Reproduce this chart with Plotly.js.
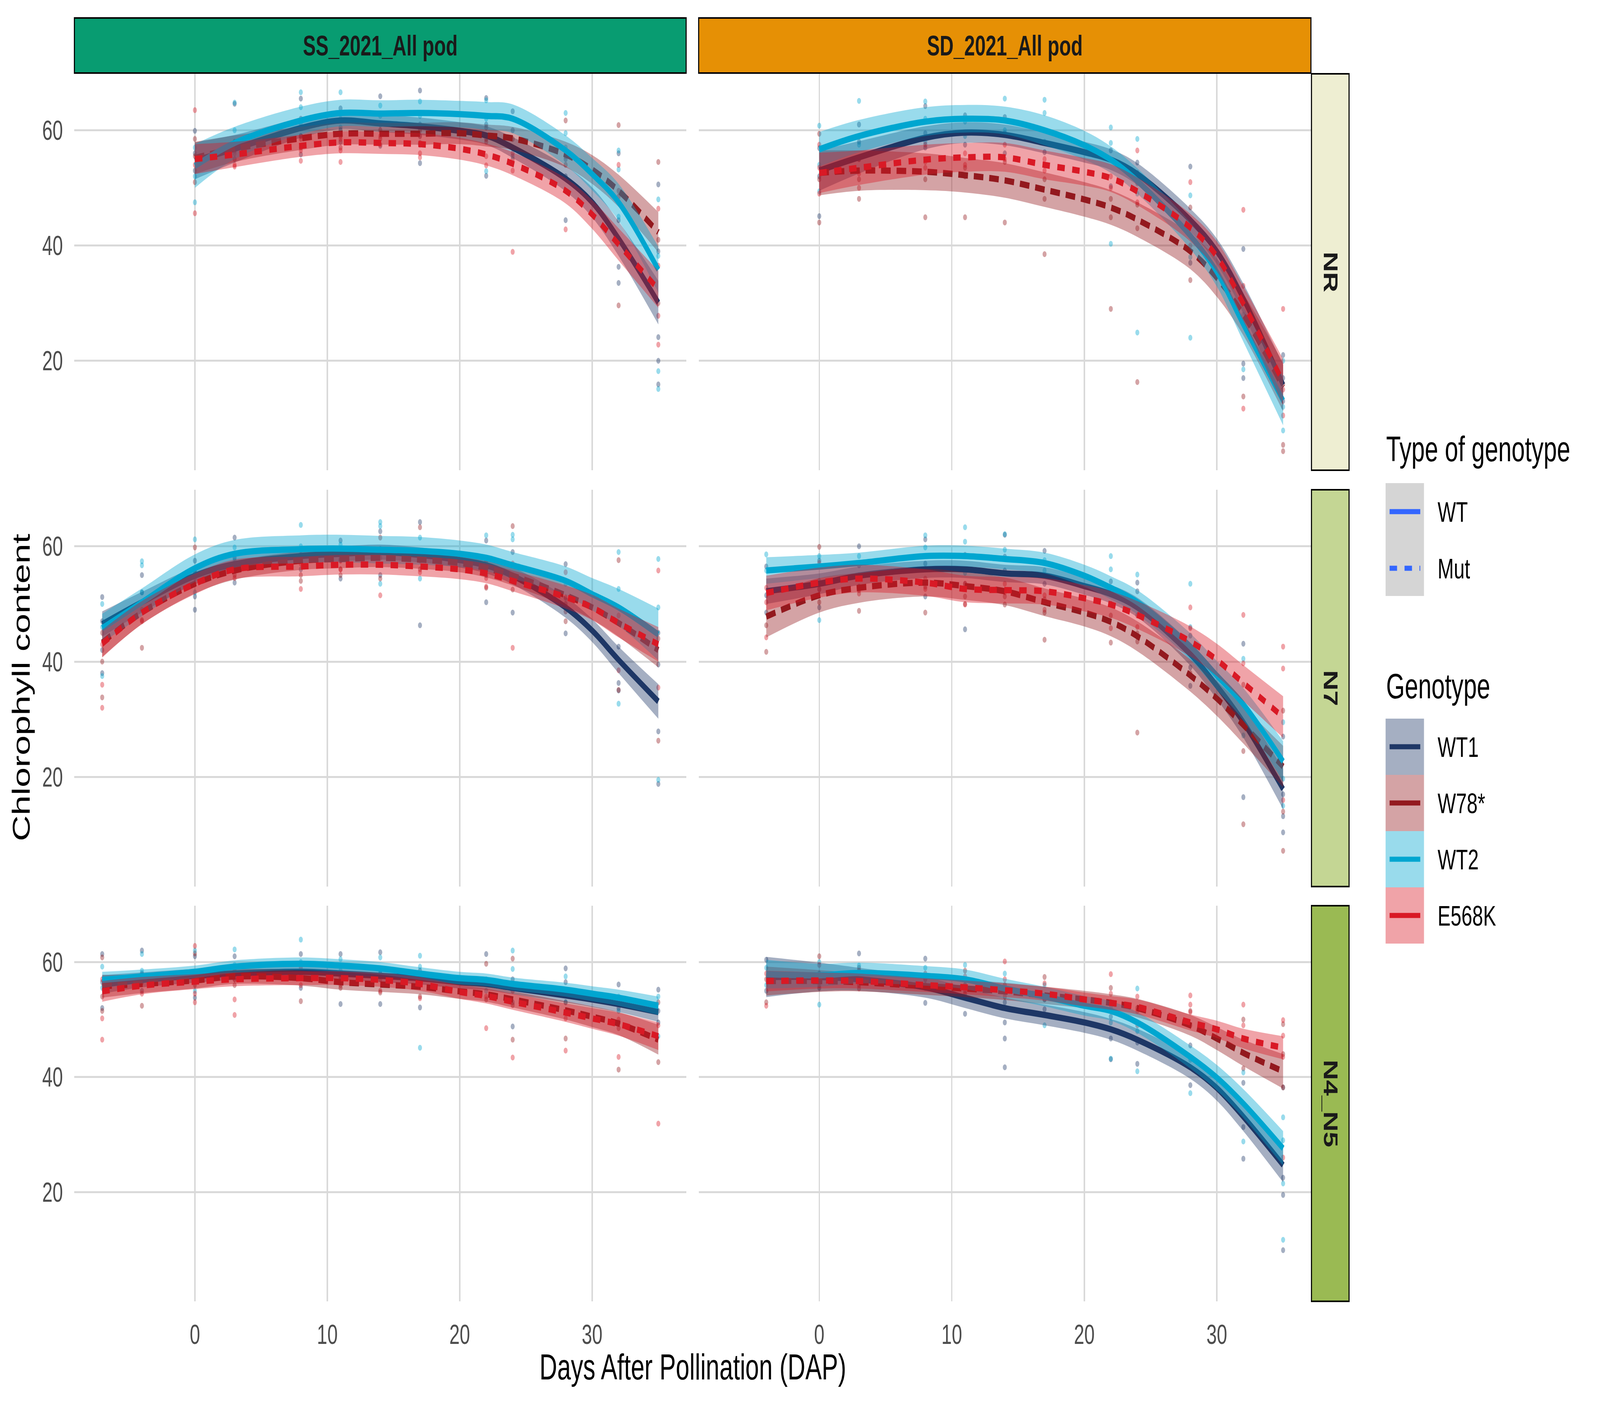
<!DOCTYPE html>
<html>
<head>
<meta charset="utf-8">
<script src="https://cdn.plot.ly/plotly-3.0.1.min.js"></script>
<style>
  html, body { margin: 0; padding: 0; overflow: hidden; background: #ffffff; }
  #chart { position: absolute; left: 0; top: 0; width: 6000px; height: 3600px; transform-origin: 0 0; }
</style>
</head>
<body>
<div id="chart"></div>
<script>
// Facets and groups
var seasons = ['SS_2021_All pod', 'SD_2021_All pod'];
var treatments = ['NR', 'N7', 'N4_N5'];
var genotypes = ['WT1', 'W78*', 'WT2', 'E568K'];
var genoTypeLabels = ['WT', 'Mut'];

var fitDays_SS_NR = [0, 3, 8, 11, 14, 17, 20, 22, 24, 28, 30, 32, 35];
var fitDays_SD_NR = [0, 3, 8, 11, 14, 17, 20, 22, 24, 28, 30, 32, 35];
var fitDays_SS_N  = [-7, -4, 0, 3, 8, 11, 14, 17, 20, 22, 24, 28, 30, 32, 35];
var fitDays_SD_N  = [-4, 0, 3, 8, 11, 14, 17, 20, 22, 24, 28, 30, 32, 35];

// Sampling days of the measured points
var obsDays_SS_NR = [0, 3, 8, 11, 14, 17, 22, 24, 28, 32, 35];
var obsDays_SD_NR = [0, 3, 8, 11, 14, 17, 22, 24, 28, 32, 35];
var obsDays_SS_N  = [-7, -4, 0, 3, 8, 11, 14, 17, 22, 24, 28, 32, 35];
var obsDays_SD_N  = [-4, 0, 3, 8, 11, 14, 17, 22, 24, 28, 32, 35];

// ---- SS / NR ----
var fit_SS_NR_WT1   = [54.7, 56.8, 60.4, 61.7, 61.2, 60.7, 59.9, 59.1, 57.0, 51.6, 47.5, 41.2, 30.1];
var band_SS_NR_WT1  = [3.2, 2.4, 1.7, 1.5, 1.5, 1.5, 1.5, 1.6, 1.8, 2.2, 2.6, 3.0, 3.8];
var fit_SS_NR_W78   = [55.2, 56.8, 58.6, 59.4, 59.4, 59.4, 59.5, 59.1, 58.6, 55.8, 53.2, 49.5, 42.3];
var band_SS_NR_W78  = [2.8, 2.3, 2.0, 1.9, 1.9, 1.9, 1.9, 1.9, 2.0, 2.2, 2.5, 2.8, 3.5];
var fit_SS_NR_WT2   = [53.8, 57.8, 61.7, 63.0, 62.9, 63.0, 62.8, 62.5, 62.0, 56.5, 52.4, 47.5, 35.8];
var band_SS_NR_WT2  = [3.8, 2.8, 2.4, 2.3, 2.3, 2.3, 2.3, 2.4, 2.5, 2.6, 2.8, 3.2, 4.0];
var fit_SS_NR_E568K = [55.0, 55.8, 57.3, 57.9, 57.8, 57.6, 56.8, 55.8, 54.2, 49.5, 45.4, 40.2, 32.4];
var band_SS_NR_E568K= [2.6, 2.2, 1.9, 1.9, 1.9, 1.9, 1.9, 1.9, 2.0, 2.2, 2.5, 2.8, 3.2];

// ---- SD / NR ----
var fit_SD_NR_WT1   = [53.0, 55.3, 58.7, 59.6, 59.2, 57.8, 56.2, 54.9, 52.4, 44.4, 39.0, 30.8, 15.8];
var band_SD_NR_WT1  = [3.5, 2.8, 2.0, 1.8, 1.8, 1.8, 1.8, 1.8, 1.9, 2.0, 2.2, 2.6, 3.5];
var fit_SD_NR_W78   = [52.6, 53.0, 52.8, 52.2, 51.3, 49.7, 48.0, 46.6, 44.5, 39.0, 34.4, 28.0, 15.4];
var band_SD_NR_W78  = [3.9, 3.5, 3.2, 3.0, 3.0, 3.0, 3.0, 3.0, 3.0, 3.1, 3.3, 3.6, 4.2];
var fit_SD_NR_WT2   = [56.7, 59.0, 61.5, 62.0, 61.7, 60.0, 57.4, 54.9, 51.2, 41.7, 35.4, 26.3, 13.1];
var band_SD_NR_WT2  = [3.0, 2.8, 2.5, 2.4, 2.4, 2.6, 2.5, 2.3, 2.2, 2.3, 2.5, 3.0, 4.3];
var fit_SD_NR_E568K = [52.6, 53.5, 54.9, 55.3, 55.3, 54.0, 52.8, 51.7, 49.4, 43.1, 38.1, 29.9, 16.3];
var band_SD_NR_E568K= [3.5, 3.0, 2.6, 2.5, 2.5, 2.5, 2.4, 2.4, 2.4, 2.4, 2.6, 3.0, 4.0];

// ---- SS / N7 ----
var fit_SS_N7_WT1   = [46.5, 50.3, 54.9, 56.9, 58.3, 58.7, 59.0, 58.5, 57.6, 56.7, 54.9, 49.4, 45.4, 40.3, 33.1];
var band_SS_N7_WT1  = [2.2, 1.8, 1.5, 1.4, 1.3, 1.3, 1.3, 1.3, 1.3, 1.4, 1.5, 1.8, 2.0, 2.3, 3.0];
var fit_SS_N7_W78   = [43.3, 48.5, 53.5, 55.8, 57.5, 57.8, 58.0, 57.7, 57.1, 56.2, 54.9, 51.5, 49.4, 46.7, 42.0];
var band_SS_N7_W78  = [2.5, 2.0, 1.7, 1.6, 1.6, 1.6, 1.6, 1.6, 1.6, 1.6, 1.7, 1.9, 2.1, 2.4, 3.0];
var fit_SS_N7_WT2   = [45.8, 50.3, 56.2, 58.7, 59.5, 59.6, 59.4, 59.2, 58.7, 58.0, 56.7, 54.0, 51.7, 49.4, 44.7];
var band_SS_N7_WT2  = [2.5, 2.4, 2.4, 2.4, 2.4, 2.4, 2.4, 2.4, 2.3, 2.3, 2.3, 2.5, 2.8, 3.2, 4.5];
var fit_SS_N7_E568K = [43.1, 48.5, 53.5, 56.0, 56.5, 56.8, 56.8, 56.5, 56.0, 55.3, 54.0, 51.2, 49.4, 46.7, 43.0];
var band_SS_N7_E568K= [2.4, 2.0, 1.8, 1.7, 1.7, 1.7, 1.7, 1.7, 1.7, 1.7, 1.8, 2.0, 2.2, 2.5, 3.0];

// ---- SD / N7 ----
var fit_SD_N7_WT1   = [52.2, 53.5, 54.9, 56.0, 56.0, 55.3, 54.9, 53.1, 51.7, 49.4, 41.3, 35.8, 29.5, 17.9];
var band_SD_N7_WT1  = [2.2, 1.8, 1.6, 1.5, 1.5, 1.5, 1.5, 1.5, 1.6, 1.7, 2.0, 2.3, 2.7, 3.5];
var fit_SD_N7_W78   = [47.8, 51.5, 52.8, 53.7, 53.1, 52.2, 50.3, 48.5, 46.9, 44.4, 37.6, 33.6, 29.0, 21.8];
var band_SD_N7_W78  = [3.6, 3.0, 2.6, 2.4, 2.4, 2.4, 2.4, 2.4, 2.5, 2.6, 2.8, 3.0, 3.2, 3.6];
var fit_SD_N7_WT2   = [55.8, 56.5, 57.1, 58.3, 58.3, 57.8, 57.1, 54.9, 52.8, 50.3, 42.6, 37.6, 32.6, 22.7];
var band_SD_N7_WT2  = [2.3, 2.0, 1.8, 1.8, 1.8, 1.8, 1.8, 1.9, 2.0, 2.1, 2.3, 2.5, 2.8, 3.5];
var fit_SD_N7_E568K = [51.9, 53.7, 54.4, 53.7, 52.6, 52.4, 52.2, 51.0, 49.9, 48.1, 43.5, 40.3, 36.3, 30.4];
var band_SD_N7_E568K= [3.0, 2.6, 2.4, 2.3, 2.3, 2.3, 2.3, 2.3, 2.3, 2.4, 2.6, 2.8, 3.1, 3.6];

// ---- SS / N4_N5 ----
var fit_SS_N4_WT1   = [56.1, 56.9, 57.6, 58.0, 58.3, 58.0, 57.6, 57.2, 56.5, 56.2, 55.5, 54.2, 53.5, 52.7, 51.3];
var band_SS_N4_WT1  = [1.6, 1.3, 1.2, 1.1, 1.1, 1.1, 1.1, 1.1, 1.1, 1.1, 1.1, 1.2, 1.3, 1.4, 1.7];
var fit_SS_N4_W78   = [55.8, 56.2, 56.8, 57.5, 57.2, 56.5, 56.1, 55.7, 54.9, 54.4, 53.5, 51.6, 50.5, 49.3, 46.5];
var band_SS_N4_W78  = [2.0, 1.6, 1.4, 1.3, 1.3, 1.3, 1.3, 1.3, 1.3, 1.3, 1.4, 1.6, 1.8, 2.0, 2.6];
var fit_SS_N4_WT2   = [56.9, 57.5, 58.3, 59.2, 59.7, 59.4, 58.9, 58.0, 57.2, 56.9, 56.2, 55.2, 54.5, 53.8, 52.4];
var band_SS_N4_WT2  = [1.4, 1.2, 1.1, 1.1, 1.1, 1.1, 1.1, 1.1, 1.1, 1.1, 1.1, 1.2, 1.3, 1.4, 1.6];
var fit_SS_N4_E568K = [54.9, 55.9, 56.6, 57.0, 57.2, 57.2, 56.9, 56.2, 54.8, 54.1, 53.1, 51.2, 50.2, 49.2, 47.1];
var band_SS_N4_E568K= [1.8, 1.5, 1.3, 1.2, 1.2, 1.2, 1.2, 1.2, 1.2, 1.3, 1.4, 1.6, 1.8, 2.0, 2.4];

// ---- SD / N4_N5 ----
var fit_SD_N4_WT1   = [57.4, 57.4, 57.0, 55.6, 53.8, 52.0, 50.8, 49.5, 48.3, 46.5, 41.7, 38.1, 33.1, 24.7];
var band_SD_N4_WT1  = [3.5, 2.5, 2.0, 1.8, 1.8, 1.8, 1.8, 1.8, 1.8, 1.9, 2.0, 2.2, 2.5, 3.0];
var fit_SD_N4_W78   = [56.7, 56.7, 56.5, 55.8, 55.4, 54.9, 54.2, 53.5, 52.9, 52.0, 49.0, 46.7, 44.2, 41.0];
var band_SD_N4_W78  = [2.5, 1.9, 1.6, 1.5, 1.5, 1.5, 1.5, 1.5, 1.5, 1.6, 1.8, 2.0, 2.3, 3.0];
var fit_SD_N4_WT2   = [57.9, 57.7, 58.1, 57.6, 57.0, 55.4, 54.0, 52.4, 51.5, 49.5, 43.5, 39.9, 35.4, 27.6];
var band_SD_N4_WT2  = [2.5, 2.0, 1.8, 1.7, 1.7, 1.7, 1.7, 1.7, 1.7, 1.8, 2.0, 2.2, 2.5, 3.0];
var fit_SD_N4_E568K = [56.7, 56.8, 56.7, 56.0, 55.6, 55.1, 54.5, 53.5, 52.9, 52.2, 49.5, 48.3, 46.7, 45.1];
var band_SD_N4_E568K= [1.8, 1.4, 1.3, 1.2, 1.2, 1.2, 1.2, 1.2, 1.2, 1.3, 1.4, 1.5, 1.7, 2.0];

// Measured points, one list per sampling day
var pts_SS_NR_WT1   = [[59.9,56,53],[64.6,58,56.5],[65.5,62,59,55.8],[63.8,60,58],[65.9,61,57.3],[66.9,61,57.5,54.3],[65.6,61,52.1],[63.3,60,57],[55,52,44.4],[56,44.4,36.3,33.5],[50.6,39,24.1,20,15.9]];
var pts_SS_NR_W78   = [[58.5,55.5,51],[57,55],[60.5,58.5,57],[59,57],[60,58.5],[60,57.8],[60.5,58.5],[58.5,55],[61.7,54],[60.9,49.5,29.6],[54.5,41,30]];
var pts_SS_NR_WT2   = [[57,52,47.5],[64.8,60,57.5],[66.6,64,61],[66.6,62,60.5],[64.3,62.5],[65,62.5,59],[65.2,62,52.9],[62,55.5],[63,59.5,57],[56.5,53.2,45],[48,38.2,18.2,15.1]];
var pts_SS_NR_E568K = [[63.5,54,45.6],[56,54,53.7],[59,56.5,54.7],[58.5,56.5,54.5],[59,57.5],[59,56,55.3],[58,55.5,53.9],[56,53,38.9],[55.5,42.8],[54,48.5,41.2],[46.4,36.5,27.8,22.8]];

var pts_SD_NR_WT1   = [[56.9,52,45.1],[61,58,55],[64.2,59.5,57],[62.6,59.5,57.5],[62.3,59.5,56],[60,56.2],[56.5,54.9,50.3],[54.4,52.6,50.8],[53.7,44.4,37],[39.4,19.5,17],[21,17,13]];
var pts_SD_NR_W78   = [[59.4,51.5,44],[51.5,48.1],[51.5,44.9],[53.5,52,44.9],[54.5,44],[51.5,48.1,38.5],[48.1,44.9,29],[47.1,43,16.3],[46.6,34],[30,13.8],[16,5.4,4.3]];
var pts_SD_NR_WT2   = [[60.8,54,49.4],[65.1,57.5],[65,62,58],[61.5,59],[65.5,60],[65.3,63,58],[60.5,57.8,40.3],[58.5,49,24.9],[48.7,38,24],[28,18.5],[20,12,7.9]];
var pts_SD_NR_E568K = [[57.5,53.5,49],[55,52.5,50],[57.5,54.5,53.5],[56,54],[57.5,55],[55,53],[52,50],[56.5,47.5],[51,44.5,40],[46.2,33,11.7],[29,15,10.5]];

var pts_SS_N7_WT1   = [[51.2,47,42,38],[55,52],[57.5,51.3,49],[61.5,58,53.7],[58.5,56],[61,57.6,54.4],[62.6,59.5,55],[64.2,58,46.3],[61,55,50.3],[59,54.5,48.5],[56.9,50,44.9],[42.6,36.3,35],[45,39.5,27.9,18.8]];
var pts_SS_N7_W78   = [[45,40,33.8],[47.2,42.4],[59.8,55.5],[57,55],[55,54],[56,55],[61.5,54.4],[63.3,56],[57.5,52.8],[63.5,52.5],[48.7,47],[57.6,35.1],[44,26.3]];
var pts_SS_N7_WT2   = [[50,46,37.5],[57.4,56.7,52],[61.2,55.5,52],[59.8,57.5],[63.7,60],[60.3,58],[64.2,63.5,53.5],[61.5,54.4],[61.9,56],[62,61.2,55],[53.5,51],[59,52.6,32.7],[57.8,49.4,19.5]];
var pts_SS_N7_E568K = [[43,36,32],[49,47],[56,54.5],[56,54.5],[57,52.6],[57.5,56],[58,51.5],[57.5,55.5],[54.5,53],[57,42.4],[55.5,51.2],[48,38.5],[55.8,35.5]];

var pts_SD_N7_WT1   = [[56.5,51.5,48.5],[57.5,52.5,49.4],[60,56.7,53],[61.2,57,51.3],[58.5,53.5,45.6],[62,58.2,55.8],[59.2,53.5],[53.9,50],[53.7,52.2],[44.5,39,35.8],[43.1,29,16.5],[27,17,13.2,10.4]];
var pts_SD_N7_W78   = [[46.3,41.7],[59.9,50.3],[52.4,48.8],[53,48.5],[51.3,50],[51.3,49.9],[50.8,48.5,43.8],[48,43.3],[44.9,43.5,27.7],[41.3,38],[36,24.5,11.8],[31.5,14,7.2]];
var pts_SD_N7_WT2   = [[58.6,55.8],[58.3,54,47.2],[58.3,55],[61.9,59.8],[63.3,60.8,55.4],[62.1,59.4],[57.6,55.8],[58.3,56,52],[55.1,50],[53.5,46],[40.5,27.2],[29.5,19.7,15]];
var pts_SD_N7_E568K = [[52.8,50.3,44.2],[57.1,52.6],[54.4,51.8],[54.4,52.6],[53.5,49.9],[53.5,52],[51.5,49],[50,45.8],[48,46],[49.4,45.8],[48.1,39.7],[42.6,38.8,16]];

var pts_SS_N4_WT1   = [[61.4,56.5,52],[62,58,55],[61,57.5,53.8],[61,57],[61.4,58,55.5],[61.4,57,52.7],[61.7,58,52.7],[58.5,52.1],[61.4,56.4],[57,53,48.8],[58.9,56.5,51.3],[56.1,52,49.5],[55.2,51.5,49.5]];
var pts_SS_N4_W78   = [[60.8,54,51.5],[56.5,52.4],[61.5,56],[58.5,56],[57.5,53.2],[58,55.5],[57.5,54.7],[56,54],[59.7,53.5],[60.6,52.5,46.5],[53,46.7],[48.5,41.3],[53,42.6]];
var pts_SS_N4_WT2   = [[59.2,55.5],[61.4,58.5],[62,55],[62.2,59.5],[63.9,60],[60.5,58.5],[60.8,58.5],[61.1,59.2,45.1],[57,55],[62,58.8],[57.5,53],[54,51.5],[54,47.1]];
var pts_SS_N4_E568K = [[57,50.2,46.5],[57.5,54.5],[62.8,54.5,53],[57,53.5,50.8],[59,56],[57.5,56],[57,55],[57,53.7],[54,48.5],[55,43.4],[50.2,44.6],[50,43.5],[49,31.9]];

var pts_SD_N4_WT1   = [[60.4,55],[58,55.5],[61.5,57],[60.6,56,52.9],[56,51],[53,49.5,46.7,41.7],[53.5,51.8],[50.5,46.7,43.1],[49.5,46,42.3],[45.5,38.6],[39,31.3,25.8],[38.2,22.5,19.5,9.9]];
var pts_SD_N4_W78   = [[57,53],[61,56],[59,56],[58,55.5],[58.5,54.5],[56,54],[57.4,53.5],[55.5,53],[52,49],[51.5,49],[50,41.5],[49.2,44,38.2]];
var pts_SD_N4_WT2   = [[59,56],[60,52.6],[59.4,57],[59,57],[59.5,56],[58,55.2],[56,49],[52,49.5,43.2],[55.4,48,41],[43,37.2],[40.8,28.8],[33,29,21.5,11.7]];
var pts_SD_N4_E568K = [[58,52.4],[59.5,56.5],[58.5,55.4],[57,56],[57.5,55],[60.1,57],[56.3,54],[57.9,54.5],[54,51.5],[54.2,52.6,51.3],[52.6,49],[49.9,47.2,43.5,26]];

// ---- styling ----
var FONT = 'Liberation Sans, Arial, sans-serif';
var geno_rgb  = ['30,55,102', '147,25,30', '0,166,208', '217,25,37'];
var geno_dash = ['solid', '36px,22px', 'solid', '28px,28px'];
var season_fill = ['#089c71', '#e69005'];
var treat_fill  = ['#eeeed2', '#c4d694', '#9aba53'];

// panel geometry in paper fractions of the 6000 x 3600 design
var colDom = [[279 / 6000, 2573 / 6000], [2620 / 6000, 4916 / 6000]];
var rowDom = [[1 - 1204 / 3600, 1 - 189 / 3600], [1 - 2270 / 3600, 1 - 1254 / 3600], [1 - 3332 / 3600, 1 - 2319 / 3600]];

var panels = [
	{ row: 0, col: 0, days: fitDays_SS_NR, obs: obsDays_SS_NR,
	  fits: [fit_SS_NR_WT1, fit_SS_NR_W78, fit_SS_NR_WT2, fit_SS_NR_E568K],
	  bands: [band_SS_NR_WT1, band_SS_NR_W78, band_SS_NR_WT2, band_SS_NR_E568K],
	  pts: [pts_SS_NR_WT1, pts_SS_NR_W78, pts_SS_NR_WT2, pts_SS_NR_E568K] },
	{ row: 0, col: 1, days: fitDays_SD_NR, obs: obsDays_SD_NR,
	  fits: [fit_SD_NR_WT1, fit_SD_NR_W78, fit_SD_NR_WT2, fit_SD_NR_E568K],
	  bands: [band_SD_NR_WT1, band_SD_NR_W78, band_SD_NR_WT2, band_SD_NR_E568K],
	  pts: [pts_SD_NR_WT1, pts_SD_NR_W78, pts_SD_NR_WT2, pts_SD_NR_E568K] },
	{ row: 1, col: 0, days: fitDays_SS_N, obs: obsDays_SS_N,
	  fits: [fit_SS_N7_WT1, fit_SS_N7_W78, fit_SS_N7_WT2, fit_SS_N7_E568K],
	  bands: [band_SS_N7_WT1, band_SS_N7_W78, band_SS_N7_WT2, band_SS_N7_E568K],
	  pts: [pts_SS_N7_WT1, pts_SS_N7_W78, pts_SS_N7_WT2, pts_SS_N7_E568K] },
	{ row: 1, col: 1, days: fitDays_SD_N, obs: obsDays_SD_N,
	  fits: [fit_SD_N7_WT1, fit_SD_N7_W78, fit_SD_N7_WT2, fit_SD_N7_E568K],
	  bands: [band_SD_N7_WT1, band_SD_N7_W78, band_SD_N7_WT2, band_SD_N7_E568K],
	  pts: [pts_SD_N7_WT1, pts_SD_N7_W78, pts_SD_N7_WT2, pts_SD_N7_E568K] },
	{ row: 2, col: 0, days: fitDays_SS_N, obs: obsDays_SS_N,
	  fits: [fit_SS_N4_WT1, fit_SS_N4_W78, fit_SS_N4_WT2, fit_SS_N4_E568K],
	  bands: [band_SS_N4_WT1, band_SS_N4_W78, band_SS_N4_WT2, band_SS_N4_E568K],
	  pts: [pts_SS_N4_WT1, pts_SS_N4_W78, pts_SS_N4_WT2, pts_SS_N4_E568K] },
	{ row: 2, col: 1, days: fitDays_SD_N, obs: obsDays_SD_N,
	  fits: [fit_SD_N4_WT1, fit_SD_N4_W78, fit_SD_N4_WT2, fit_SD_N4_E568K],
	  bands: [band_SD_N4_WT1, band_SD_N4_W78, band_SD_N4_WT2, band_SD_N4_E568K],
	  pts: [pts_SD_N4_WT1, pts_SD_N4_W78, pts_SD_N4_WT2, pts_SD_N4_E568K] }
];

var data = [];
var layout = {
	width: 6000, height: 3600,
	margin: { l: 0, r: 0, t: 0, b: 0 },
	paper_bgcolor: '#ffffff', plot_bgcolor: '#ffffff',
	showlegend: false,
	font: { family: FONT, color: '#000000' },
	shapes: [], annotations: []
};

panels.forEach(function(p, i) {
	var n = i + 1;
	var xa = 'x' + n, ya = 'y' + n;

	// raw points
	for (var g = 0; g < genotypes.length; g++) {
		var xs = [], ys = [];
		p.pts[g].forEach(function(vals, k) {
			vals.forEach(function(v) { xs.push(p.obs[k]); ys.push(v); });
		});
		data.push({
			type: 'scatter', mode: 'markers', x: xs, y: ys, xaxis: xa, yaxis: ya,
			hoverinfo: 'skip',
			marker: { size: 15, color: 'rgba(' + geno_rgb[g] + ',0.4)', line: { width: 0 } }
		});
	}

	// smooth + confidence ribbon, one group at a time
	for (var g = 0; g < genotypes.length; g++) {
		var fit = p.fits[g], band = p.bands[g];
		var upper = fit.map(function(v, k) { return v + band[k]; });
		var lower = fit.map(function(v, k) { return v - band[k]; });
		data.push({
			type: 'scatter', mode: 'lines', x: p.days, y: upper, xaxis: xa, yaxis: ya,
			hoverinfo: 'skip', line: { width: 0, shape: 'spline', color: 'rgba(0,0,0,0)' }
		});
		data.push({
			type: 'scatter', mode: 'lines', x: p.days, y: lower, xaxis: xa, yaxis: ya,
			hoverinfo: 'skip', fill: 'tonexty', fillcolor: 'rgba(' + geno_rgb[g] + ',0.4)',
			line: { width: 0, shape: 'spline', color: 'rgba(0,0,0,0)' }
		});
		data.push({
			type: 'scatter', mode: 'lines', x: p.days, y: fit, xaxis: xa, yaxis: ya,
			name: genotypes[g], hoverinfo: 'skip',
			line: { width: 16, shape: 'spline', color: 'rgb(' + geno_rgb[g] + ')', dash: geno_dash[g] }
		});
	}

	var axisKey = n === 1 ? '' : String(n);
	layout['xaxis' + axisKey] = {
		domain: colDom[p.col], anchor: ya, range: [-9.1, 37.1],
		tickvals: [0, 10, 20, 30], showticklabels: p.row === 2,
		ticks: '', ticklabelstandoff: 38,
		tickfont: { family: FONT, size: 70, color: '#4d4d4d' },
		showgrid: true, gridcolor: '#d9d9d9', gridwidth: 5,
		zeroline: false, showline: false, fixedrange: true
	};
	layout['yaxis' + axisKey] = {
		domain: rowDom[p.row], anchor: xa, range: [1.0, 69.8],
		tickvals: [20, 40, 60], showticklabels: p.col === 0,
		ticks: '', ticklabelstandoff: 42,
		tickfont: { family: FONT, size: 70, color: '#4d4d4d' },
		showgrid: true, gridcolor: '#d9d9d9', gridwidth: 5,
		zeroline: false, showline: false, fixedrange: true
	};
});

// top strips (season)
seasons.forEach(function(s, c) {
	layout.shapes.push({
		type: 'rect', xref: 'paper', yref: 'paper',
		x0: colDom[c][0], x1: colDom[c][1], y0: 1 - 187 / 3600, y1: 1 - 46 / 3600,
		fillcolor: season_fill[c], line: { color: '#000000', width: 4 }
	});
	layout.annotations.push({
		xref: 'paper', yref: 'paper', x: (colDom[c][0] + colDom[c][1]) / 2, y: 1 - 117 / 3600,
		text: '<b>' + s + '</b>', showarrow: false, xanchor: 'center', yanchor: 'middle',
		font: { family: FONT, size: 72, color: '#1a1a1a' }
	});
});

// right strips (treatment)
treatments.forEach(function(t, r) {
	layout.shapes.push({
		type: 'rect', xref: 'paper', yref: 'paper',
		x0: 4918 / 6000, x1: 5059 / 6000, y0: rowDom[r][0], y1: rowDom[r][1],
		fillcolor: treat_fill[r], line: { color: '#000000', width: 4 }
	});
	layout.annotations.push({
		xref: 'paper', yref: 'paper', x: 4990 / 6000, y: (rowDom[r][0] + rowDom[r][1]) / 2,
		text: '<b>' + t + '</b>', showarrow: false, textangle: 90,
		xanchor: 'center', yanchor: 'middle',
		font: { family: FONT, size: 72, color: '#1a1a1a' }
	});
});

// axis titles
layout.annotations.push({
	xref: 'paper', yref: 'paper', x: (279 + 4916) / 2 / 6000, y: 1 - 3500 / 3600,
	text: 'Days After Pollination (DAP)', showarrow: false, xanchor: 'center', yanchor: 'middle',
	font: { family: FONT, size: 92, color: '#000000' }
});
layout.annotations.push({
	xref: 'paper', yref: 'paper', x: 80 / 6000, y: 1 - 1760 / 3600,
	text: 'Chlorophyll content', showarrow: false, textangle: -90,
	xanchor: 'center', yanchor: 'middle',
	font: { family: FONT, size: 92, color: '#000000' }
});

// ---- hand-built legends ----
function px(v) { return v / 6000; }
function py(v) { return 1 - v / 3600; }

// Type of genotype
layout.annotations.push({
	xref: 'paper', yref: 'paper', x: px(5196), y: py(1150), text: 'Type of genotype',
	showarrow: false, xanchor: 'left', yanchor: 'middle',
	font: { family: FONT, size: 90, color: '#000000' }
});
layout.shapes.push({
	type: 'rect', xref: 'paper', yref: 'paper', x0: px(5196), x1: px(5340), y0: py(1526), y1: py(1237),
	fillcolor: '#d5d5d5', line: { width: 0 }
});
var typeY = [1310, 1455];
var typeDash = ['solid', '28px,28px'];
genoTypeLabels.forEach(function(lbl, k) {
	layout.shapes.push({
		type: 'line', xref: 'paper', yref: 'paper', x0: px(5211), x1: px(5326), y0: py(typeY[k]), y1: py(typeY[k]),
		line: { color: '#3366ff', width: 13, dash: typeDash[k] }
	});
	layout.annotations.push({
		xref: 'paper', yref: 'paper', x: px(5389), y: py(typeY[k]), text: lbl,
		showarrow: false, xanchor: 'left', yanchor: 'middle',
		font: { family: FONT, size: 73, color: '#000000' }
	});
});

// Genotype
layout.annotations.push({
	xref: 'paper', yref: 'paper', x: px(5196), y: py(1757), text: 'Genotype',
	showarrow: false, xanchor: 'left', yanchor: 'middle',
	font: { family: FONT, size: 90, color: '#000000' }
});
var keyTop = 1840, keyH = 144;
genotypes.forEach(function(gname, g) {
	var y0 = keyTop + g * keyH, yc = y0 + keyH / 2;
	layout.shapes.push({
		type: 'rect', xref: 'paper', yref: 'paper', x0: px(5196), x1: px(5340), y0: py(y0 + keyH), y1: py(y0),
		fillcolor: 'rgba(' + geno_rgb[g] + ',0.4)', line: { width: 0 }
	});
	layout.shapes.push({
		type: 'line', xref: 'paper', yref: 'paper', x0: px(5211), x1: px(5326), y0: py(yc), y1: py(yc),
		line: { color: 'rgb(' + geno_rgb[g] + ')', width: 13 }
	});
	layout.annotations.push({
		xref: 'paper', yref: 'paper', x: px(5389), y: py(yc), text: gname,
		showarrow: false, xanchor: 'left', yanchor: 'middle',
		font: { family: FONT, size: 73, color: '#000000' }
	});
});

// The browser window may be narrower than the 6000 x 3600 design; stretch the
// finished drawing so that it fills the whole window.
var chartDiv = document.getElementById('chart');
Plotly.newPlot(chartDiv, data, layout, { staticPlot: true, displayModeBar: false }).then(function() {
	var sx = window.innerWidth / 6000, sy = window.innerHeight / 3600;
	chartDiv.style.transform = 'scale(' + sx + ',' + sy + ')';
});
</script>
</body>
</html>
